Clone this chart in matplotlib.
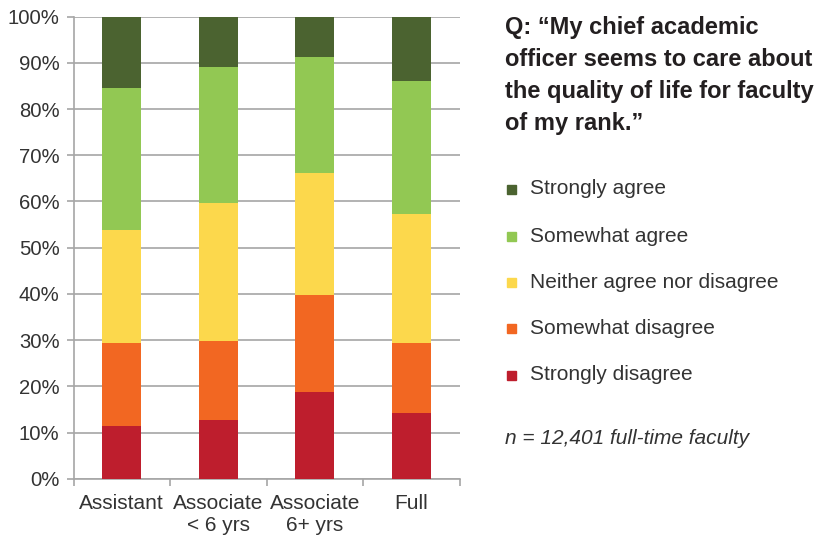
import matplotlib
matplotlib.use("Agg")
import matplotlib.pyplot as plt
import numpy as np
from matplotlib.patches import Rectangle

plt.rcParams['font.family'] = ['Liberation Sans', 'DejaVu Sans']

# data (percent of respondents)
ranks = ['Assistant', 'Associate\n< 6 yrs', 'Associate\n6+ yrs', 'Full']
responses = ['Strongly disagree', 'Somewhat disagree', 'Neither agree nor disagree',
             'Somewhat agree', 'Strongly agree']
strongly_disagree = [11.5, 12.7, 18.8, 14.3]
somewhat_disagree = [17.8, 17.0, 20.9, 15.1]
neither = [24.5, 30.0, 26.5, 28.0]
somewhat_agree = [30.8, 29.5, 25.0, 28.6]
strongly_agree = [15.4, 10.8, 8.8, 14.0]

colors = ['#BE1E2D', '#F26722', '#FCD84C', '#92C853', '#4B6330']
series = [strongly_disagree, somewhat_disagree, neither, somewhat_agree, strongly_agree]

W, H = 825, 538
fig = plt.figure(figsize=(W / 100, H / 100), dpi=100)
ax = fig.add_axes([73.5 / W, 1 - 478.7 / H, 386 / W, 462 / H])

x = np.arange(len(ranks))
bottom = np.zeros(len(ranks))
for vals, c in zip(series, colors):
    ax.bar(x, vals, bottom=bottom, width=0.4, color=c, zorder=3, linewidth=0)
    bottom += np.array(vals)

ax.set_xlim(-0.5, len(ranks) - 0.5)
ax.set_ylim(0, 100)
ax.set_yticks(np.arange(0, 101, 10))
ax.set_yticklabels([f'{v}%' for v in range(0, 101, 10)], fontsize=14.6, color='#333333')
ax.yaxis.grid(True, color='#A6A6A6', linewidth=1.2, zorder=0)

# category boundary ticks below the axis, labels centred on bars
ax.set_xticks(np.arange(-0.5, len(ranks), 1.0))
ax.set_xticklabels([])
ax.set_xticks(x, minor=True)
ax.set_xticklabels(ranks, minor=True, fontsize=15, color='#333333', linespacing=1.2)
ax.tick_params(axis='x', which='major', length=5, color='#A6A6A6', width=1.2)
ax.tick_params(axis='x', which='minor', length=0, pad=11)
ax.tick_params(axis='y', length=5, color='#A6A6A6', width=1.2, pad=5)

for s in ['top', 'right']:
    ax.spines[s].set_visible(False)
for s in ['left', 'bottom']:
    ax.spines[s].set_color('#A6A6A6')
    ax.spines[s].set_linewidth(1.2)

# title text on the right
fig.text(505 / W, 1 - 16 / H,
         'Q: \u201cMy chief academic\nofficer seems to care about\nthe quality of life for faculty\nof my rank.\u201d',
         fontsize=17, fontweight='bold', color='#231F20', va='top', ha='left',
         linespacing=1.5)

# legend, top to bottom
leg_y = [189, 236, 282, 328, 375]
for yy, lab, c in zip(leg_y, responses[::-1], colors[::-1]):
    fig.patches.append(Rectangle((507 / W, 1 - (yy + 4.5) / H), 9 / W, 9 / H,
                                 transform=fig.transFigure, color=c))
    fig.text(530 / W, 1 - yy / H, lab, fontsize=15, color='#333333',
             va='center', ha='left')

fig.text(505 / W, 1 - 438 / H, 'n = 12,401 full-time faculty', fontsize=15,
         style='italic', color='#333333', va='center', ha='left')

fig.savefig('out.png', dpi=100)
